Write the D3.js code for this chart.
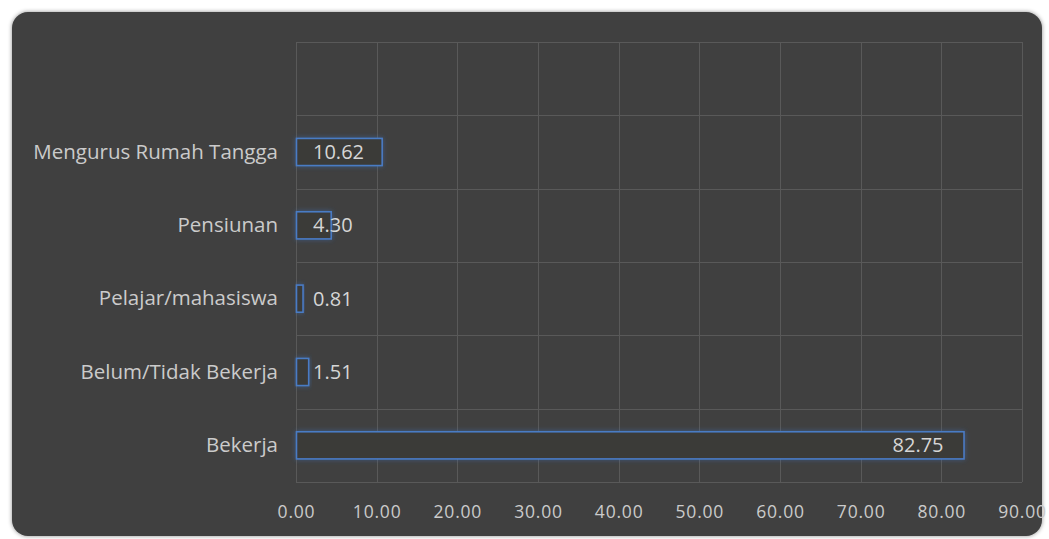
<!DOCTYPE html>
<html>
<head>
<meta charset="utf-8">
<script src="https://cdn.jsdelivr.net/npm/d3@7"></script>
<style>
  body { margin: 0; background: #ffffff; }
  svg { display: block; }
</style>
</head>
<body>
<script>
// categories, bottom to top; the top band is empty in the original chart
var categories = ["Bekerja", "Belum/Tidak Bekerja", "Pelajar/mahasiswa", "Pensiunan", "Mengurus Rumah Tangga", ""];
var values = [82.75, 1.51, 0.81, 4.30, 10.62];
var tickValues = [0, 10, 20, 30, 40, 50, 60, 70, 80, 90];

var width = 1049, height = 539;
var margin = {top: 42, right: 27, bottom: 57, left: 296};

var svg = d3.select("body").append("svg")
    .attr("width", width)
    .attr("height", height);

var defs = svg.append("defs");
var shadow = defs.append("filter").attr("id", "shadow")
    .attr("x", "-5%").attr("y", "-5%").attr("width", "110%").attr("height", "110%");
shadow.append("feDropShadow")
    .attr("dx", 0).attr("dy", 0).attr("stdDeviation", 2)
    .attr("flood-color", "#000").attr("flood-opacity", 0.45);

var glow = defs.append("filter").attr("id", "glow")
    .attr("x", "-20%").attr("y", "-50%").attr("width", "140%").attr("height", "200%");
glow.append("feGaussianBlur").attr("in", "SourceAlpha").attr("stdDeviation", 2.5).attr("result", "b");
glow.append("feFlood").attr("flood-color", "#3d6fb8").attr("flood-opacity", 0.55).attr("result", "c");
glow.append("feComposite").attr("in", "c").attr("in2", "b").attr("operator", "in").attr("result", "g");
var merge = glow.append("feMerge");
merge.append("feMergeNode").attr("in", "g");
merge.append("feMergeNode").attr("in", "SourceGraphic");

// card
svg.append("rect")
    .attr("x", 12).attr("y", 12)
    .attr("width", 1030).attr("height", 524)
    .attr("rx", 16).attr("ry", 16)
    .attr("fill", "#404040")
    .attr("filter", "url(#shadow)");

var x = d3.scaleLinear()
    .domain([0, 90])
    .range([margin.left, width - margin.right]);

var y = d3.scaleBand()
    .domain(categories)
    .range([height - margin.bottom, margin.top])
    .paddingInner(0.63)
    .paddingOuter(0.315);

var yGrid = d3.scaleBand()
    .domain(categories)
    .range([height - margin.bottom, margin.top]);

// grid lines
var grid = svg.append("g").attr("stroke", "#595959").attr("stroke-width", 1);
grid.selectAll(".vline")
    .data(tickValues)
    .enter().append("line")
    .attr("x1", function(d) { return Math.round(x(d)) + 0.5; })
    .attr("x2", function(d) { return Math.round(x(d)) + 0.5; })
    .attr("y1", margin.top)
    .attr("y2", height - margin.bottom);

var hLines = categories.map(function(c) { return yGrid(c); });
hLines.push(height - margin.bottom);
grid.selectAll(".hline")
    .data(hLines)
    .enter().append("line")
    .attr("x1", margin.left)
    .attr("x2", width - margin.right)
    .attr("y1", function(d) { return Math.round(d) + 0.5; })
    .attr("y2", function(d) { return Math.round(d) + 0.5; });

// x axis labels
var xAxis = d3.axisBottom(x)
    .tickValues(tickValues)
    .tickSize(0)
    .tickPadding(24)
    .tickFormat(d3.format(".2f"));

var gx = svg.append("g")
    .attr("transform", "translate(0," + (height - margin.bottom) + ")")
    .call(xAxis);
gx.select(".domain").remove();
gx.selectAll("text")
    .attr("fill", "#cbcbcb")
    .style("font-family", "'Open Sans', sans-serif")
    .style("font-size", "17.5px")
    .style("letter-spacing", "0.8px");

// y axis labels
var yAxis = d3.axisLeft(y).tickSize(0).tickPadding(18);
var gy = svg.append("g")
    .attr("transform", "translate(" + margin.left + ",0)")
    .call(yAxis);
gy.select(".domain").remove();
gy.selectAll("text")
    .attr("fill", "#cbcbcb")
    .style("font-family", "'Open Sans', sans-serif")
    .style("font-size", "20.5px");

// bars
var data = values.map(function(v, i) { return {name: categories[i], value: v}; });

var bars = svg.append("g");
bars.selectAll("rect")
    .data(data)
    .enter().append("rect")
    .attr("x", x(0) + 0.5)
    .attr("y", function(d) { return y(d.name); })
    .attr("width", function(d) { return x(d.value) - x(0); })
    .attr("height", y.bandwidth())
    .attr("fill", "#3b3a39")
    .attr("stroke", "#4a7bc4")
    .attr("stroke-width", 1.6)
    .attr("filter", "url(#glow)");

// data labels
var labels = svg.append("g");
labels.selectAll("text")
    .data(data)
    .enter().append("text")
    .attr("y", function(d) { return y(d.name) + y.bandwidth() / 2; })
    .attr("dy", "0.35em")
    .attr("fill", "#d6d6d6")
    .style("font-family", "'Open Sans', sans-serif")
    .style("font-size", "20px")
    .text(function(d) { return d.value.toFixed(2); })
    .attr("x", function(d) {
        var w = this.getComputedTextLength();
        return Math.max(x(0) + 17, x(d.value) - 20 - w);
    });
</script>
</body>
</html>
